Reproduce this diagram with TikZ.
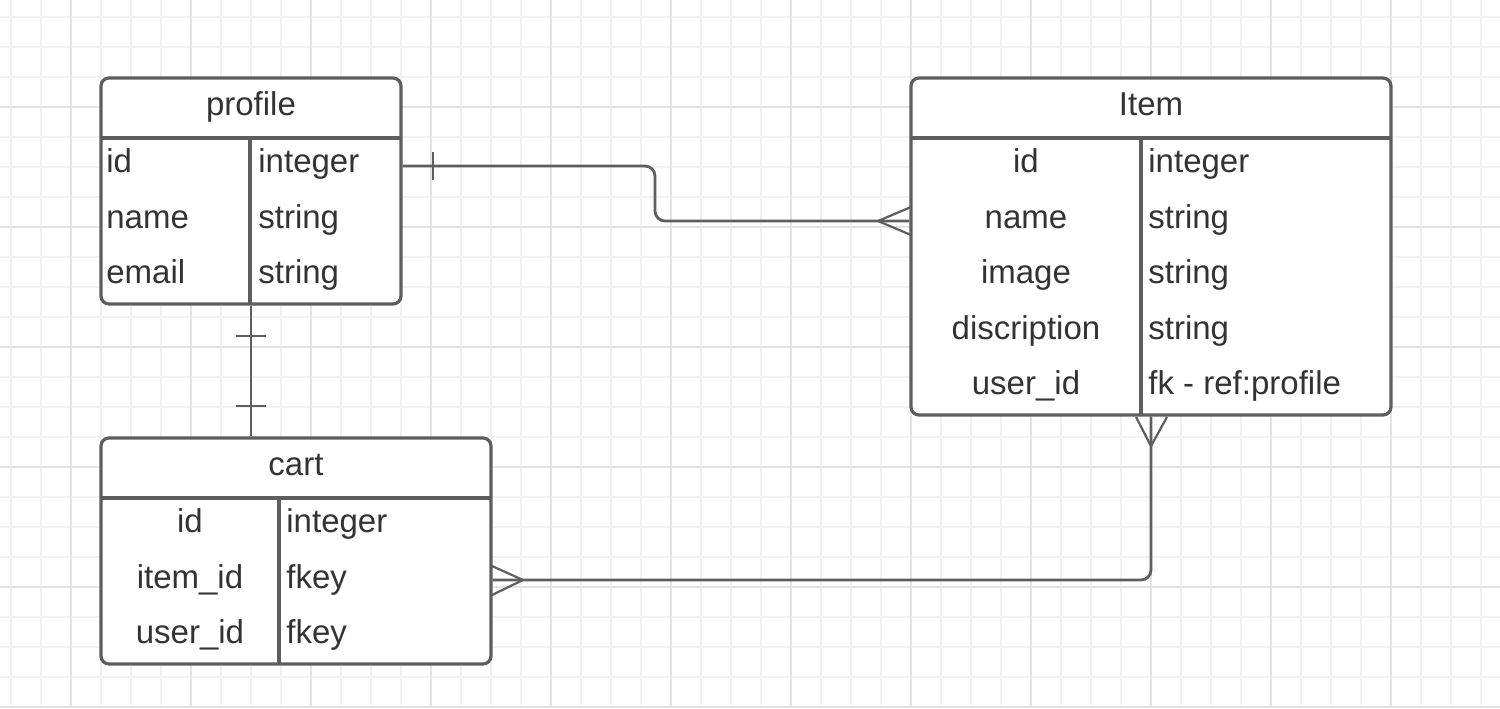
\documentclass[tikz,border=0pt]{standalone}
\usepackage{fontspec}
\usepackage{tikz}
\usepackage{xcolor}
\setmainfont{Liberation Sans}

\definecolor{edgegray}{HTML}{5E5E5E}
\definecolor{textgray}{HTML}{333333}
\definecolor{gridlight}{HTML}{F1F1F1}
\definecolor{griddark}{HTML}{E3E3E3}

\tikzset{
    tablebox/.style={draw=edgegray, line width=1.6pt, rounded corners=4pt, fill=white, inner sep=0pt},
    tableline/.style={draw=edgegray, line width=1.6pt},
    cell/.style={text=textgray, inner sep=0pt, font=\fontsize{16.5}{19}\selectfont},
    relation/.style={draw=edgegray, line width=1.4pt, rounded corners=5pt},
    crow/.style={draw=edgegray, line width=1.1pt},
    tick/.style={draw=edgegray, line width=1.4pt}
}

\begin{document}
\begin{tikzpicture}[x=0.5pt, y=-0.5pt]
    \useasboundingbox (0,0) rectangle (1500,708);
    \fill[white] (0,0) rectangle (1500,708);

    % Background grid
    \foreach \gx in {11,41,...,1500} \draw[gridlight, line width=0.6pt] (\gx,0) -- (\gx,708);
    \foreach \gy in {17,47,...,708} \draw[gridlight, line width=0.6pt] (0,\gy) -- (1500,\gy);
    \foreach \gx in {71,191,...,1500} \draw[griddark, line width=0.6pt] (\gx,0) -- (\gx,708);
    \foreach \gy in {107,227,...,708} \draw[griddark, line width=0.6pt] (0,\gy) -- (1500,\gy);

    % Table: profile
    \node[tablebox, minimum width=150pt, minimum height=113pt] (profile) at (251,191) {};
    \draw[tableline] (101,138) -- (401,138);
    \draw[tableline] (250,138) -- (250,304);
    \node[cell, anchor=base] (profiletitle) at (251,115) {profile};
    \node[cell, anchor=base west] (pid) at (106,172) {id};
    \node[cell, anchor=base west] (pname) at (106,228) {name};
    \node[cell, anchor=base west] (pemail) at (106,283) {email};
    \node[cell, anchor=base west] (pidtype) at (258,172) {integer};
    \node[cell, anchor=base west] (pnametype) at (258,228) {string};
    \node[cell, anchor=base west] (pemailtype) at (258,283) {string};

    % Table: Item
    \node[tablebox, minimum width=240pt, minimum height=168.5pt] (item) at (1151,246.5) {};
    \draw[tableline] (911,138) -- (1391,138);
    \draw[tableline] (1141,138) -- (1141,415);
    \node[cell, anchor=base] (itemtitle) at (1151,115) {Item};
    \node[cell, anchor=base] (iid) at (1026,172) {id};
    \node[cell, anchor=base] (iname) at (1026,228) {name};
    \node[cell, anchor=base] (iimage) at (1026,283) {image};
    \node[cell, anchor=base] (idesc) at (1026,339) {discription};
    \node[cell, anchor=base] (iuser) at (1026,394) {user\_id};
    \node[cell, anchor=base west] (iidtype) at (1148,172) {integer};
    \node[cell, anchor=base west] (inametype) at (1148,228) {string};
    \node[cell, anchor=base west] (iimagetype) at (1148,283) {string};
    \node[cell, anchor=base west] (idesctype) at (1148,339) {string};
    \node[cell, anchor=base west] (iusertype) at (1148,394) {fk - ref:profile};

    % Table: cart
    \node[tablebox, minimum width=195pt, minimum height=113pt] (cart) at (296,551) {};
    \draw[tableline] (101,498) -- (491,498);
    \draw[tableline] (279,498) -- (279,664);
    \node[cell, anchor=base] (carttitle) at (296,475) {cart};
    \node[cell, anchor=base] (cid) at (190,532) {id};
    \node[cell, anchor=base] (citem) at (190,588) {item\_id};
    \node[cell, anchor=base] (cuser) at (190,643) {user\_id};
    \node[cell, anchor=base west] (cidtype) at (286,532) {integer};
    \node[cell, anchor=base west] (citemtype) at (286,588) {fkey};
    \node[cell, anchor=base west] (cusertype) at (286,643) {fkey};

    % profile -- Item (one to many)
    \coordinate (bendpi) at (655,166);
    \draw[relation] (profile.east |- bendpi) -- (bendpi) -- (655,221) -- (item.west |- 0,221);
    \draw[tick] (433,152) -- (433,180);
    \draw[crow] (911,207) -- (878,221) -- (911,235);

    % profile -- cart (one to one)
    \draw[relation] (profile.south) -- (cart.north -| profile.south);
    \draw[tick] (236,336) -- (266,336);
    \draw[tick] (236,406) -- (266,406);

    % Item -- cart (many to many)
    \draw[relation] (item.south) |- (cart.east |- 0,580);
    \draw[crow] (1136,417) -- (1151,446) -- (1167,417);
    \draw[crow] (492,566) -- (523,580) -- (492,595);
\end{tikzpicture}
\end{document}
